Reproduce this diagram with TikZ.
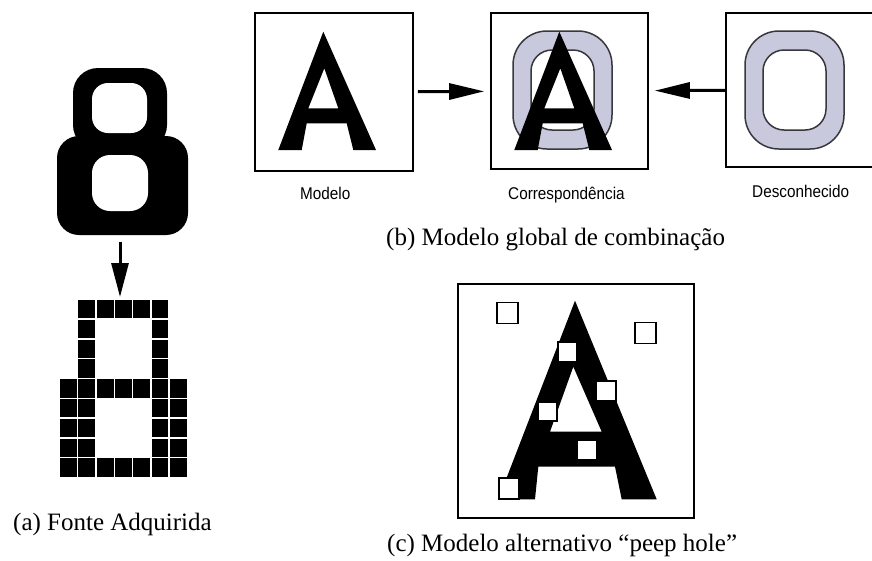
\documentclass[tikz,border=0pt]{standalone}
\usepackage{fontspec}
\setmainfont{Liberation Serif}
\newfontfamily\labelfont{Liberation Sans}[FakeStretch=0.9]
\usetikzlibrary{arrows.meta}

\definecolor{ofill}{RGB}{201,201,222}
\definecolor{oline}{RGB}{55,55,60}

\begin{document}
\begin{tikzpicture}[x=1pt,y=-1pt,
  frame/.style={draw=black, line width=1.6pt, inner sep=0pt},
  arr/.style={line width=3pt, -{Triangle[length=35pt,width=16pt]}},
  darr/.style={line width=3pt, -{Triangle[length=34pt,width=17pt]}},
  sublabel/.style={font=\labelfont\fontsize{17}{20}\selectfont, anchor=base west, inner sep=0pt},
  caption/.style={font=\fontsize{25}{30}\selectfont, anchor=base west, inner sep=0pt},
  peep/.style={draw=black, fill=white, line width=1.8pt, inner sep=0pt},
  letterA/.pic={
    \fill[black, even odd rule]
      (68.3,18.7) -- (121,137) -- (98.3,137) -- (91.7,110.3) -- (51.7,110.3)
      -- (46.7,137) -- (23.3,137) -- cycle
      (69.3,55.3) -- (83.3,95.3) -- (53.3,95.3) -- cycle;
  },
  letterO/.pic={
    \filldraw[fill=ofill, draw=oline, line width=1.5pt, rounded corners=34pt]
      (0,0) rectangle (99,118);
    \filldraw[fill=white, draw=oline, line width=1.5pt, rounded corners=21pt]
      (18,19) rectangle (81,99);
  }
]
\useasboundingbox (0,0) rectangle (872,560);

% ---------- (a) acquired glyph and its pixel grid ----------
\fill[black, rounded corners=25pt] (73,68) rectangle (167,150);
\fill[black, rounded corners=22pt] (57,136) rectangle (188,235);
\fill[white, rounded corners=16pt] (92,83) rectangle (147,133);
\fill[white, rounded corners=18pt] (92,155) rectangle (148,211);

\coordinate (eightfoot) at (120,242);
\coordinate (gridtop) at (120,297);
\draw[darr] (eightfoot) -- (gridtop);

\foreach \r/\cols in {1/{2,3,4,5,6}, 2/{2,6}, 3/{2,6}, 4/{2,6}, 5/{1,2,3,4,5,6,7},
                      6/{1,2,6,7}, 7/{1,2,6,7}, 8/{1,2,6,7}, 9/{1,2,3,4,5,6,7}} {
  \foreach \c in \cols {
    \fill[black] (60+18.3*\c-18.3, 300+19.8*\r-19.8) rectangle ++(16.9,18.4);
  }
}

\node[caption] (capa) at (13,530) {(a) Fonte Adquirida};

% ---------- (b) global template matching ----------
\node[frame, minimum width=158pt, minimum height=158pt] (modelo) at (334,92) {};
\node[frame, minimum width=157pt, minimum height=156pt] (corr) at (569.5,91) {};
\node[inner sep=0pt, minimum width=146pt, minimum height=154pt] (desc) at (799,90) {};
\draw[line width=1.6pt] (desc.north east) -- (desc.north west)
  -- (desc.south west) -- (desc.south east);

\pic at (255,13) {letterA};
\pic at (513,31) {letterO};
\pic at (491,13) {letterA};
\pic at (745,31) {letterO};

\draw[arr, shorten <=4pt, shorten >=6pt] (modelo) -- (corr);
\draw[arr, shorten >=6pt] (desc) -- (corr);

\node[sublabel] (lmodelo) at (300,199) {Modelo};
\node[sublabel] (lcorr) at (508,199) {Correspondência};
\node[sublabel] (ldesc) at (752,197) {Desconhecido};

\node[caption] (capb) at (386,245) {(b) Modelo global de combinação};

% ---------- (c) peep-hole template ----------
\node[frame, minimum width=236pt, minimum height=234pt] (peepbox) at (576,401) {};
\fill[black, even odd rule]
  (575,300.7) -- (656.7,499.3) -- (621.7,499.3) -- (615,466.7) -- (538.3,466.7)
  -- (535,499.3) -- (498.3,499.3) -- cycle
  (573.3,366.7) -- (601.7,431.7) -- (550,431.7) -- cycle;

\foreach \x/\y/\s [count=\i] in {507.5/313/21, 645.5/333/21, 567.5/352/19.5,
    606/391/19.5, 547.5/411.5/19.5, 587/450/19.5, 509/488.5/20.5} {
  \node[peep, minimum size=\s pt] (ph\i) at (\x,\y) {};
}

\node[caption] (capc) at (387,551) {(c) Modelo alternativo “peep hole”};
\end{tikzpicture}
\end{document}
